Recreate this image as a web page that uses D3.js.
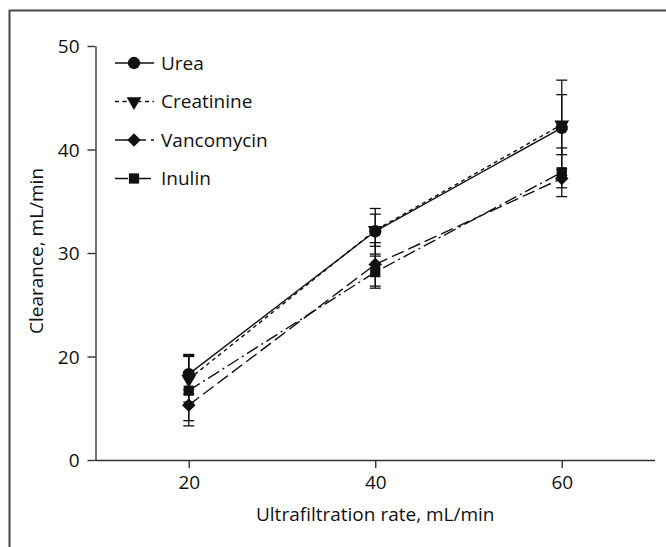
<!DOCTYPE html>
<html>
<head>
<meta charset="utf-8">
<script src="https://cdn.jsdelivr.net/npm/d3@7"></script>
<style>
  body { margin: 0; background: #fff; }
  text { font-family: "Open Sans", "Noto Sans", sans-serif; fill: #111; }
</style>
</head>
<body>
<div id="chart"></div>
<script>
// data
var rates = [20, 40, 60]
var seriesNames = ["Urea", "Creatinine", "Vancomycin", "Inulin"]
var ureaMean = [18.3, 32.1, 42.1]
var ureaErr = [1.9, 2.2, 4.6]
var creatinineMean = [17.8, 32.2, 42.4]
var creatinineErr = [2.2, 1.55, 2.9]
var vancomycinMean = [15.3, 28.9, 37.2]
var vancomycinErr = [1.5, 2.1, 0.9]
var inulinMean = [16.7, 28.15, 37.8]
var inulinErr = [3.4, 1.55, 2.35]
var xTicks = [20, 40, 60]
var yTicks = [10, 20, 30, 40, 50]
var yTickLabels = ["0", "20", "30", "40", "50"]   // bottom tick is printed as 0 in the original

var width = 666
var height = 547
var fontSize = 19

var svg = d3.select('#chart').append('svg')
  .attr("width", width)
  .attr("height", height)

// frame (left + top only, like the scan)
svg.append("path")
  .attr("d", "M9.5,547 V10.5 H666")
  .attr("fill", "none")
  .attr("stroke", "#474747")
  .attr("stroke-width", 2)

const x = d3.scaleLinear().domain([10, 70]).range([95.5, 655])
const y = d3.scaleLinear().domain([10, 50]).range([460, 46])

// axes
const xAxis = svg.append("g")
  .attr("transform", "translate(0," + y(10) + ")")
  .call(d3.axisBottom(x).tickValues(xTicks).tickSize(8).tickSizeOuter(0).tickPadding(8))
const yAxis = svg.append("g")
  .attr("transform", "translate(" + x(10) + ",0)")
  .call(d3.axisLeft(y).tickValues(yTicks).tickFormat((d, i) => yTickLabels[i]).tickSize(8).tickSizeOuter(0).tickPadding(8))

svg.selectAll(".domain, .tick line").attr("stroke", "#333").attr("stroke-width", 1.4)
svg.selectAll(".tick text").attr("font-size", fontSize).style("font-family", "'Open Sans', sans-serif").attr("fill", "#111")
yAxis.selectAll(".tick text").attr("dy", "0.36em")
xAxis.select(".domain").attr("d", "M" + x(10) + ",0.5H" + x(70))

// axis titles
svg.append("text")
  .attr("x", x(40))
  .attr("y", 521)
  .attr("text-anchor", "middle")
  .attr("font-size", fontSize)
  .text("Ultrafiltration rate, mL/min")

svg.append("text")
  .attr("transform", "translate(43," + (y(30) - 2) + ") rotate(-90)")
  .attr("text-anchor", "middle")
  .attr("font-size", fontSize)
  .text("Clearance, mL/min")

// series
const series = [
  {name: seriesNames[0], mean: ureaMean, err: ureaErr, dash: null, sym: d3.symbolCircle, size: 120},
  {name: seriesNames[1], mean: creatinineMean, err: creatinineErr, dash: "4,3.5", sym: d3.symbolTriangle, size: 95, rot: 180},
  {name: seriesNames[2], mean: vancomycinMean, err: vancomycinErr, dash: "13,5", sym: d3.symbolSquare, size: 92, rot: 45},
  {name: seriesNames[3], mean: inulinMean, err: inulinErr, dash: "13,4,2,4", sym: d3.symbolSquare, size: 105}
]

const line = d3.line().x(d => x(d[0])).y(d => y(d[1]))

const plot = svg.append("g")

// error bars
series.forEach(s => {
  rates.forEach((r, i) => {
    const g = plot.append("g").attr("stroke", "#111").attr("stroke-width", 1.3)
    g.append("line").attr("x1", x(r)).attr("x2", x(r))
      .attr("y1", y(s.mean[i] - s.err[i])).attr("y2", y(s.mean[i] + s.err[i]))
    ;[s.mean[i] - s.err[i], s.mean[i] + s.err[i]].forEach(v => {
      g.append("line").attr("x1", x(r) - 5.5).attr("x2", x(r) + 5.5)
        .attr("y1", y(v)).attr("y2", y(v))
    })
  })
})

// lines
series.forEach(s => {
  plot.append("path")
    .datum(rates.map((r, i) => [r, s.mean[i]]))
    .attr("d", line)
    .attr("fill", "none")
    .attr("stroke", "#111")
    .attr("stroke-width", 1.4)
    .attr("stroke-dasharray", s.dash)
})

// markers
function marker(g, s, cx, cy) {
  g.append("path")
    .attr("d", d3.symbol().type(s.sym).size(s.size)())
    .attr("transform", "translate(" + cx + "," + cy + ")" + (s.rot ? " rotate(" + s.rot + ")" : ""))
    .attr("fill", "#111")
}
series.slice().reverse().forEach(s => {
  rates.forEach((r, i) => marker(plot, s, x(r), y(s.mean[i])))
})

// legend
const legend = svg.append("g")
const legendY = [63, 101.5, 140, 178.5]
series.forEach((s, i) => {
  legend.append("line")
    .attr("x1", 115).attr("x2", 154)
    .attr("y1", legendY[i]).attr("y2", legendY[i])
    .attr("stroke", "#111")
    .attr("stroke-width", 1.4)
    .attr("stroke-dasharray", s.dash)
  marker(legend, s, 134, legendY[i])
  legend.append("text")
    .attr("x", 161)
    .attr("y", legendY[i])
    .attr("dy", "0.36em")
    .attr("font-size", fontSize)
    .text(s.name)
})
</script>
</body>
</html>
